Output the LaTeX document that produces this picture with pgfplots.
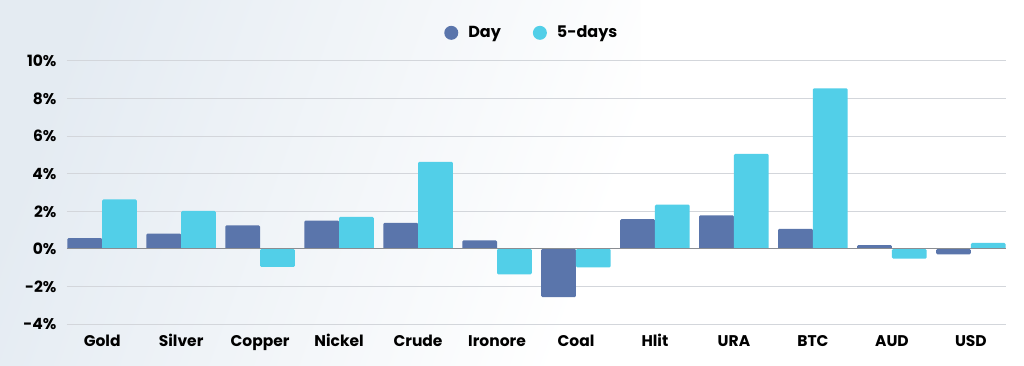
\documentclass[border=0pt]{standalone}
\usepackage{pgfplots}
\pgfplotsset{compat=1.18}
\usepackage{fontspec}
\setmainfont{Poppins}
\definecolor{dayc}{HTML}{5A75AB}
\definecolor{fivec}{HTML}{52CFE8}
\definecolor{gridc}{HTML}{D3D6DB}
\definecolor{zeroc}{HTML}{8A8D92}
\definecolor{bgl}{HTML}{E4EBF2}
\begin{document}
\begin{tikzpicture}
\useasboundingbox (0pt,0pt) rectangle (1024pt,366pt);
\fill[white] (0pt,0pt) rectangle (1024pt,366pt);
\shade[left color=bgl, right color=white, shading angle=70] (0pt,0pt) rectangle (640pt,366pt);
\begin{axis}[
  at={(67pt,41.7pt)}, anchor=south west,
  scale only axis, width=939pt, height=263.6pt,
  xmin=-0.445, xmax=11.445,
  ymin=-4, ymax=10,
  ytick={-4,-2,0,2,4,6,8,10},
  xtick=data,
  xticklabels={Gold,Silver,Copper,Nickel,Crude,Ironore,Coal,Hlit,URA,BTC,AUD,USD},
  axis line style={draw=none},
  major tick length=0pt,
  ymajorgrids, grid style={gridc, line width=1pt},
  /pgf/number format/assume math mode=true,
  yticklabel={\pgfmathprintnumber{\tick}\%},
  ticklabel style={font=\fontsize{15.5}{17}\selectfont\bfseries, text=black},
  yticklabel style={xshift=-7pt},
  xticklabel style={yshift=-8pt, text height=11pt, text depth=3pt},
  ybar, bar width=0.44,
  legend columns=2,
  legend style={draw=none, fill=none, at={(0.495,1)}, anchor=south, yshift=17pt,
    font=\fontsize{16}{18}\selectfont\bfseries,
    /tikz/every odd column/.append style={column sep=8pt},
    /tikz/every even column/.append style={column sep=30pt}},
  legend image code/.code={\fill[#1] (0pt,0pt) circle (7pt);},
  clip=false,
]
\addplot[draw=none, fill=dayc, bar shift=-0.22, rounded corners=1.2pt] coordinates {
(0,0.58) (1,0.82) (2,1.25) (3,1.51) (4,1.39) (5,0.46) (6,-2.56) (7,1.58) (8,1.79) (9,1.07) (10,0.21) (11,-0.28)};
\addplot[draw=none, fill=fivec, bar shift=0.22, rounded corners=1.2pt] coordinates {
(0,2.63) (1,2.02) (2,-0.95) (3,1.70) (4,4.63) (5,-1.35) (6,-0.98) (7,2.35) (8,5.05) (9,8.53) (10,-0.51) (11,0.32)};
\legend{Day,5-days}
\draw[zeroc, line width=1pt] (axis cs:-0.445,0) -- (axis cs:11.445,0);
\end{axis}
\end{tikzpicture}
\end{document}
